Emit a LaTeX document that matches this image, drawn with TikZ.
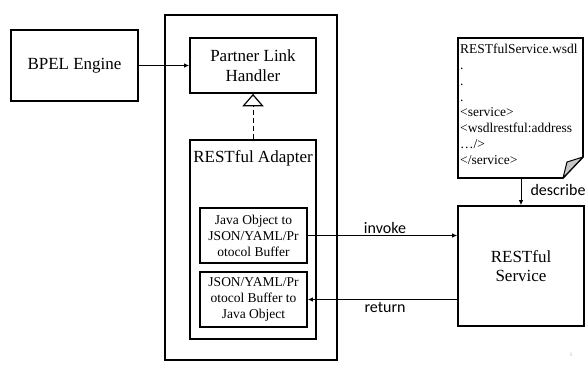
\documentclass[tikz,border=0pt]{standalone}
\usepackage{fontspec}
\setmainfont{Liberation Serif}
\newfontfamily\labelsans{Carlito}
\usetikzlibrary{arrows.meta}
\begin{document}
\begin{tikzpicture}[x=1pt,y=-1pt,
  box/.style={draw, line width=1.6pt, minimum width=#1, inner sep=0pt, align=center},
  bigtxt/.style={font=\fontsize{17}{19.5}\selectfont},
  smalltxt/.style={font=\fontsize{13.5}{16}\selectfont},
  lbl/.style={font=\labelsans\fontsize{16}{18}\selectfont, inner sep=0pt},
  conn/.style={line width=1pt, -{Latex[length=5pt,width=4.5pt]}}
]
\useasboundingbox (0,0) rectangle (587,366);

\node[box=127pt, minimum height=71pt, bigtxt] (bpel) at (74.5,65.5) {BPEL Engine};
\node[box=172pt, minimum height=345pt] (outer) at (251,187.5) {};
\node[box=126pt, minimum height=55pt, bigtxt] (plh) at (253,65.5) {Partner Link\\Handler};
\node[box=126pt, minimum height=199pt] (adapter) at (253,239.5) {};
\node[bigtxt, inner sep=0pt] (adtitle) at (253,158) {RESTful Adapter};
\node[box=107pt, minimum height=55pt, smalltxt] (j2x) at (253.5,235.5) {Java Object to\\JSON/YAML/Pr\\otocol Buffer};
\node[box=107pt, minimum height=55pt, smalltxt] (x2j) at (253.5,299.5) {JSON/YAML/Pr\\otocol Buffer to\\Java Object};
\node[box=126pt, minimum height=120pt, bigtxt] (svc) at (521,266) {RESTful\\Service};

% wsdl document
\coordinate (dnw) at (458,38);
\coordinate (dne) at (583,38);
\coordinate (dfr) at (583,157);
\coordinate (dfb) at (563,178);
\coordinate (dsw) at (458,178);
\coordinate (dfi) at (567,162);
\coordinate (docB) at (521,178);
\draw[line width=1.6pt, line join=miter] (dnw) -- (dne) -- (dfr) -- (dfb) -- (dsw) -- cycle;
\draw[line width=1pt, fill=gray!45, line join=round] (dfb) -- (dfi) -- (dfr) -- cycle;
\node[anchor=north west, align=left, inner sep=0pt, font=\fontsize{13.5}{15.8}\selectfont] (doctxt) at (460,44)
  {RESTfulService.wsdl\\.\\.\\.\\<service>\\<wsdlrestful:address\\…/>\\</service>};

% connectors
\draw[conn] (bpel.east) -- (plh.west);
\coordinate (tribase) at ([yshift=-12pt]plh.south);
\draw[line width=1pt, dash pattern=on 5pt off 3pt] (adapter.north) -- (tribase);
\draw[line width=1.2pt, fill=white, line join=miter] ([yshift=-1pt]plh.south) -- ([xshift=-9.5pt]tribase) -- ([xshift=9.5pt]tribase) -- cycle;
\draw[conn] (j2x.east) -- (svc.west |- j2x.east);
\draw[conn] (svc.west |- x2j.east) -- (x2j.east);
\draw[conn] (docB) -- (svc.north);

\node[lbl] (linv) at (385,228) {invoke};
\node[lbl] (lret) at (385,308) {return};
\node[lbl] (ldesc) at (558,190) {describe};
\node[font=\fontsize{5}{6}\selectfont, text=gray!60, inner sep=0pt] (pg) at (571,355) {5};
\end{tikzpicture}
\end{document}
